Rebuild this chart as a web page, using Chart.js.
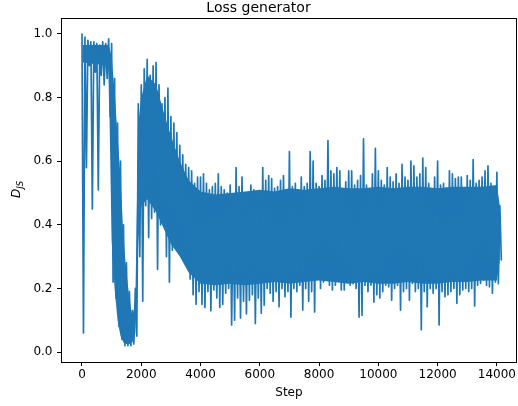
<!DOCTYPE html>
<html>
<head>
<meta charset="utf-8">
<script src="https://cdn.jsdelivr.net/npm/chart.js@4"></script>
<style>
  body { margin: 0; background: #fff; }
  canvas { display: block; }
</style>
</head>
<body>
<canvas id="lossChart" width="518" height="406"></canvas>
<script>
// read every 100 steps: the top and bottom of the noisy trace in that stretch
const highs = [
  1.0, 0.99, 0.98, 0.975, 0.975, 0.97, 0.965, 0.975, 0.97, 0.985,
  0.97, 0.86, 0.72, 0.60, 0.40, 0.28, 0.19, 0.13, 0.20, 0.78,
  0.84, 0.89, 0.92, 0.87, 0.90, 0.91, 0.84, 0.78, 0.80, 0.83,
  0.74, 0.72, 0.69, 0.65, 0.62, 0.59, 0.58, 0.57, 0.53, 0.55,
  0.55, 0.56, 0.53, 0.51, 0.52, 0.53, 0.56, 0.52, 0.51, 0.50,
  0.525, 0.47, 0.58, 0.52, 0.55, 0.46, 0.50, 0.525, 0.51, 0.50,
  0.48, 0.58, 0.54, 0.555, 0.545, 0.515, 0.52, 0.54, 0.555, 0.49,
  0.63, 0.52, 0.53, 0.51, 0.55, 0.52, 0.53, 0.63, 0.60, 0.53,
  0.52, 0.555, 0.54, 0.665, 0.57, 0.56, 0.58, 0.57, 0.50, 0.535,
  0.57, 0.57, 0.525, 0.54, 0.555, 0.67, 0.525, 0.45, 0.56, 0.64,
  0.57, 0.54, 0.525, 0.58, 0.55, 0.535, 0.56, 0.53, 0.59, 0.55,
  0.54, 0.60, 0.585, 0.55, 0.56, 0.61, 0.58, 0.53, 0.50, 0.55,
  0.60, 0.525, 0.53, 0.515, 0.57, 0.56, 0.545, 0.55, 0.55, 0.515,
  0.555, 0.54, 0.605, 0.53, 0.54, 0.55, 0.57, 0.585, 0.53, 0.52,
  0.565, 0.46
];
const lows = [
  0.06, 0.58, 0.90, 0.45, 0.88, 0.51, 0.87, 0.84, 0.86, 0.74,
  0.22, 0.17, 0.08, 0.04, 0.02, 0.02, 0.02, 0.025, 0.05, 0.30,
  0.16, 0.46, 0.36, 0.42, 0.44, 0.26, 0.40, 0.42, 0.30, 0.22,
  0.32, 0.34, 0.33, 0.32, 0.29, 0.27, 0.23, 0.18, 0.15, 0.19,
  0.15, 0.14, 0.19, 0.13, 0.195, 0.17, 0.14, 0.15, 0.185, 0.20,
  0.085, 0.10, 0.17, 0.107, 0.16, 0.12, 0.163, 0.18, 0.09, 0.17,
  0.122, 0.147, 0.20, 0.185, 0.16, 0.19, 0.142, 0.20, 0.174, 0.19,
  0.11, 0.20, 0.19, 0.21, 0.132, 0.20, 0.16, 0.19, 0.126, 0.248,
  0.20, 0.22, 0.237, 0.21, 0.195, 0.21, 0.25, 0.195, 0.195, 0.22,
  0.21, 0.215, 0.20, 0.11, 0.116, 0.21, 0.19, 0.21, 0.157, 0.18,
  0.17, 0.19, 0.21, 0.205, 0.163, 0.20, 0.21, 0.132, 0.19, 0.20,
  0.163, 0.216, 0.19, 0.20, 0.07, 0.19, 0.142, 0.20, 0.185, 0.20,
  0.085, 0.19, 0.174, 0.18, 0.19, 0.20, 0.153, 0.18, 0.195, 0.20,
  0.19, 0.20, 0.145, 0.21, 0.216, 0.226, 0.21, 0.205, 0.185, 0.22,
  0.215, 0.29
];

// the solid middle of the band, where the strokes overlap completely
const coreSteps = [
  30, 900, 1000, 1100, 1200, 1300, 1400, 1500, 1600, 1700, 1800, 1900,
  2000, 2200, 2500, 2800, 3000, 3300, 3600, 4000, 4500, 5000, 5500, 6000,
  6500, 7000, 7500, 8000, 8500, 9000, 9500, 10000, 10500, 11000, 11500,
  12000, 12500, 13000, 13500, 14000, 14100
];
const coreTop = [
  0.965, 0.965, 0.93, 0.82, 0.68, 0.55, 0.36, 0.25, 0.17, 0.11, 0.16, 0.72,
  0.80, 0.87, 0.84, 0.74, 0.68, 0.60, 0.54, 0.505, 0.495, 0.50, 0.505, 0.51,
  0.505, 0.515, 0.51, 0.515, 0.52, 0.515, 0.515, 0.52, 0.515, 0.52, 0.52,
  0.515, 0.52, 0.52, 0.52, 0.525, 0.46
];
const coreBottom = [
  0.91, 0.90, 0.35, 0.20, 0.10, 0.05, 0.03, 0.025, 0.025, 0.03, 0.06, 0.35,
  0.46, 0.48, 0.44, 0.38, 0.34, 0.30, 0.25, 0.215, 0.21, 0.215, 0.21, 0.215,
  0.22, 0.215, 0.22, 0.225, 0.22, 0.215, 0.22, 0.215, 0.215, 0.22, 0.215,
  0.215, 0.22, 0.22, 0.225, 0.225, 0.29
];

const xTicks = [0, 2000, 4000, 6000, 8000, 10000, 12000, 14000];
const yTicks = [0.0, 0.2, 0.4, 0.6, 0.8, 1.0];

// trace goes top, bottom, top, bottom... so the dense band is drawn as one line
const trace = [];
highs.forEach((h, i) => {
  trace.push({ x: i * 100, y: h });
  trace.push({ x: i * 100 + 50, y: lows[i] });
});

const blue = '#1f77b4';
const font = 'DejaVu Sans';

// matplotlib style box round the axes + the D_JS label
const framePlugin = {
  id: 'frame',
  afterDatasetsDraw(chart) {
    const { ctx, chartArea: a } = chart;
    ctx.save();
    ctx.strokeStyle = '#000';
    ctx.lineWidth = 1;
    ctx.strokeRect(Math.round(a.left) + 0.5, Math.round(a.top) + 0.5,
      Math.round(a.right - a.left) - 1, Math.round(a.bottom - a.top));
    ctx.restore();
  },
  afterDraw(chart) {
    const ctx = chart.ctx;
    ctx.save();
    ctx.translate(20, 198);
    ctx.rotate(-Math.PI / 2);
    ctx.fillStyle = '#000';
    ctx.textBaseline = 'alphabetic';
    ctx.font = 'italic 12px "' + font + '"';
    ctx.fillText('D', 0, 0);
    const w = ctx.measureText('D').width;
    ctx.font = 'italic 8.5px "' + font + '"';
    ctx.fillText('JS', w, 2.5);
    ctx.restore();
  }
};

const coreStyle = {
  borderWidth: 0,
  borderColor: blue,
  backgroundColor: blue,
  pointRadius: 0,
  tension: 0
};

const ctx = document.getElementById('lossChart').getContext('2d');
new Chart(ctx, {
  type: 'line',
  data: {
    datasets: [
      {
        label: 'Loss generator',
        data: trace,
        borderColor: blue,
        borderWidth: 1.7,
        borderJoinStyle: 'round',
        borderCapStyle: 'round',
        pointRadius: 0,
        tension: 0,
        fill: false
      },
      Object.assign({
        label: 'core top',
        data: coreSteps.map((s, i) => ({ x: s, y: coreTop[i] })),
        fill: '+1'
      }, coreStyle),
      Object.assign({
        label: 'core bottom',
        data: coreSteps.map((s, i) => ({ x: s, y: coreBottom[i] })),
        fill: false
      }, coreStyle)
    ]
  },
  options: {
    responsive: false,
    animation: false,
    layout: { padding: { right: 1 } },
    plugins: {
      legend: { display: false },
      tooltip: { enabled: false },
      title: {
        display: true,
        text: 'Loss generator',
        color: '#000',
        font: { family: font, size: 14, weight: 'normal' },
        padding: { top: 0, bottom: 1.6 }
      }
    },
    scales: {
      x: {
        type: 'linear',
        min: -708,
        max: 14675,
        afterBuildTicks: s => { s.ticks = xTicks.map(v => ({ value: v })); },
        afterFit: s => { s.height = 44; },
        ticks: {
          color: '#000',
          font: { family: font, size: 12 },
          padding: 2,
          maxRotation: 0,
          autoSkip: false,
          callback: v => String(v)
        },
        grid: { drawOnChartArea: false, tickLength: 4, color: '#000', lineWidth: 1 },
        border: { display: false },
        title: {
          display: true,
          text: 'Step',
          color: '#000',
          font: { family: font, size: 12 },
          padding: { top: 0, bottom: 5.8 }
        }
      },
      y: {
        min: -0.0314,
        max: 1.049,
        afterBuildTicks: s => { s.ticks = yTicks.map(v => ({ value: v })); },
        afterFit: s => { s.width = 61; },
        ticks: {
          color: '#000',
          font: { family: font, size: 12 },
          padding: 4.5,
          callback: v => v.toFixed(1)
        },
        grid: { drawOnChartArea: false, tickLength: 4, color: '#000', lineWidth: 1 },
        border: { display: false }
      }
    }
  },
  plugins: [framePlugin]
});
</script>
</body>
</html>
